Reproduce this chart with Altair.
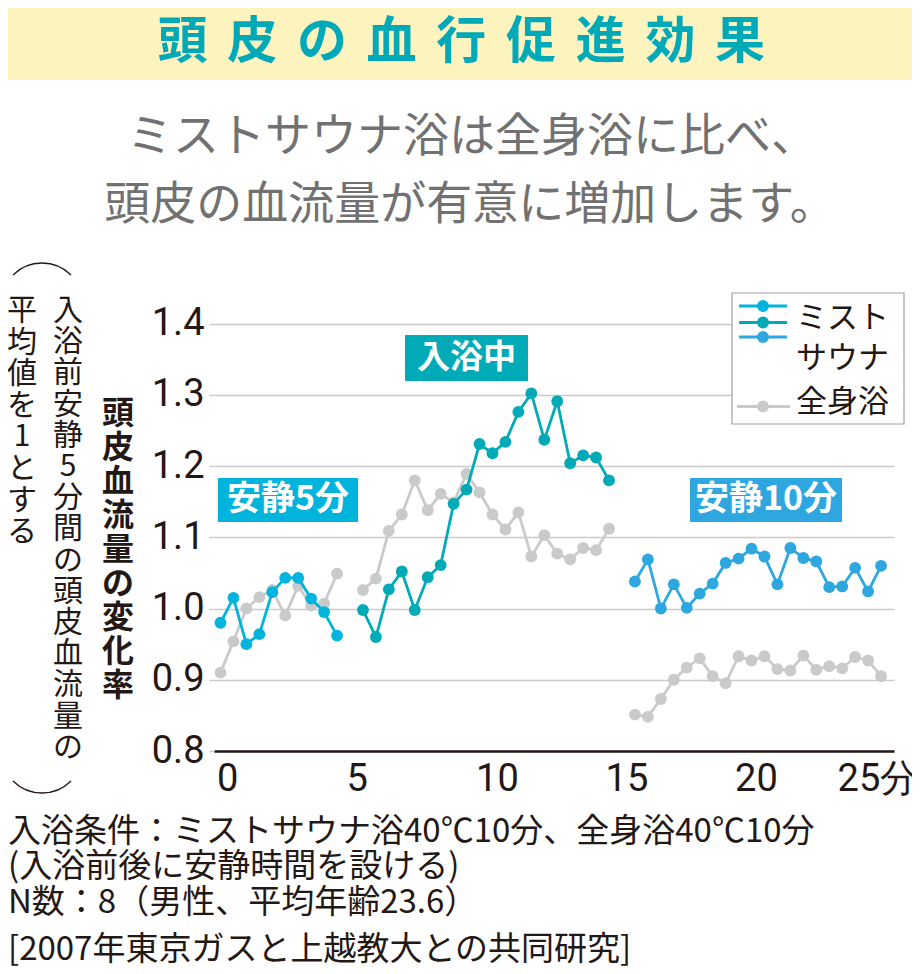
import altair as alt
import pandas as pd

# ---------------- data ----------------
t_rest1 = [0.0, 0.5, 1.0, 1.5, 2.0, 2.5, 3.0, 3.5, 4.0, 4.5]
t_bath = [5.5, 6.0, 6.5, 7.0, 7.5, 8.0, 8.5, 9.0, 9.5, 10.0,
          10.5, 11.0, 11.5, 12.0, 12.5, 13.0, 13.5, 14.0, 14.5, 15.0]
t_rest2 = [16.0, 16.5, 17.0, 17.5, 18.0, 18.5, 19.0, 19.5, 20.0, 20.5,
           21.0, 21.5, 22.0, 22.5, 23.0, 23.5, 24.0, 24.5, 25.0, 25.5]

mist_rest1 = [0.980, 1.015, 0.950, 0.964, 1.023, 1.043, 1.043, 1.014, 0.995, 0.962]
mist_bath = [0.998, 0.960, 1.027, 1.052, 0.998, 1.044, 1.061, 1.147, 1.167, 1.231,
             1.218, 1.234, 1.276, 1.302, 1.237, 1.291, 1.204, 1.215, 1.212, 1.180]
mist_rest2 = [1.038, 1.069, 1.000, 1.034, 1.001, 1.021, 1.035, 1.064, 1.070, 1.084,
              1.073, 1.034, 1.085, 1.071, 1.066, 1.030, 1.031, 1.057, 1.024, 1.060]

full_rest1 = [0.910, 0.954, 1.000, 1.016, 1.026, 0.990, 1.032, 1.004, 1.007, 1.049]
full_bath = [1.026, 1.042, 1.109, 1.132, 1.180, 1.138, 1.161, 1.149, 1.189, 1.163,
             1.132, 1.111, 1.135, 1.073, 1.103, 1.077, 1.069, 1.085, 1.082, 1.112]
full_rest2 = [0.851, 0.848, 0.873, 0.900, 0.917, 0.930, 0.905, 0.895, 0.933, 0.927,
              0.933, 0.915, 0.913, 0.934, 0.914, 0.919, 0.916, 0.932, 0.927, 0.905]

phases = ["安静5分", "入浴中", "安静10分"]
x_ticks = [0, 5, 10, 15, 20, 25]
y_ticks = [0.8, 0.9, 1.0, 1.1, 1.2, 1.3, 1.4]

title_text = "頭皮の血行促進効果"
subtitle_lines = ["ミストサウナ浴は全身浴に比べ、", "頭皮の血流量が有意に増加します。"]
y_title = "頭皮血流量の変化率"
note_col1 = "入浴前安静5分間の頭皮血流量の"
note_col2 = "平均値を1とする"
footer_lines = [
    "入浴条件：ミストサウナ浴40℃10分、全身浴40℃10分",
    "(入浴前後に安静時間を設ける)",
    "N数：8（男性、平均年齢23.6）",
    "[2007年東京ガスと上越教大との共同研究]",
]

# ---------------- styling ----------------
JP = "Noto Sans CJK JP"
NUM = "Roboto"
C_CYAN = "#00B4DE"
C_TEAL = "#00AAB6"
C_BLUE = "#2EA7E0"
C_GRAY = "#C9CACA"
C_BLACK = "#231815"
C_TITLE = "#00A9B7"
C_BANNER = "#FDF3BF"
C_SUB = "#717171"

rows = []
for ph, ts, ms, fs in [(phases[0], t_rest1, mist_rest1, full_rest1),
                       (phases[1], t_bath, mist_bath, full_bath),
                       (phases[2], t_rest2, mist_rest2, full_rest2)]:
    for t, m, f in zip(ts, ms, fs):
        rows.append({"t": t, "v": m, "series": "ミストサウナ", "phase": ph})
        rows.append({"t": t, "v": f, "series": "全身浴", "phase": ph})
df = pd.DataFrame(rows)

W, H = 680, 463
PL, PT = 206, 280
OX, OY = 8 + PL, 8 + PT  # page coordinates of plot origin

xs = alt.Scale(domain=[-0.25, 26], nice=False, zero=False)
ys = alt.Scale(domain=[0.8, 1.45], nice=False, zero=False)

x_axis = alt.Axis(
    values=x_ticks, title=None, grid=False, ticks=False,
    domainColor=C_BLACK, domainWidth=2.5,
    labelFont=NUM, labelFontSize=38, labelColor=C_BLACK,
    labelAlign="left", labelBaseline="top", labelPadding=9,
    labelOffset={"condition": {"test": "datum.value == 25", "value": -31}, "value": -4},
    labelExpr="datum.value == 25 ? '25分' : datum.label",
)
y_axis = alt.Axis(
    values=y_ticks, format=".1f", title=None, domain=False,
    grid=True, gridColor=C_GRAY, gridWidth=1.5,
    ticks=True, tickColor=C_GRAY, tickSize=5, tickWidth=1.5,
    labelFont=NUM, labelFontSize=38, labelColor=C_BLACK, labelPadding=5,
    labelBaseline="middle",
)

base = alt.Chart(df).encode(
    x=alt.X("t:Q", scale=xs, axis=x_axis),
    y=alt.Y("v:Q", scale=ys, axis=y_axis),
)

full = base.transform_filter(alt.datum.series == "全身浴")
mist = base.transform_filter(alt.datum.series == "ミストサウナ")
phase_color = alt.Color("phase:N", scale=alt.Scale(domain=phases, range=[C_CYAN, C_TEAL, C_BLUE]), legend=None)

full_line = full.mark_line(color=C_GRAY, strokeWidth=2.8).encode(detail="phase:N")
full_pts = full.mark_point(filled=True, size=140, opacity=1, color=C_GRAY)
mist_line = mist.mark_line(strokeWidth=2.8).encode(color=phase_color, detail="phase:N")
mist_pts = mist.mark_point(filled=True, size=140, opacity=1).encode(color=phase_color)

one = pd.DataFrame({"a": [0]})


def px(x):
    return x - OX


def py(y):
    return y - OY


def txt(s, x, y, size, color, weight="normal", align="center", baseline="middle",
        font=JP, line_height=None):
    kw = dict(text=s, fontSize=size, color=color, fontWeight=weight, align=align,
              baseline=baseline, font=font)
    if line_height:
        kw["lineBreak"] = "\n"
        kw["lineHeight"] = line_height
    return alt.Chart(one).mark_text(**kw).encode(x=alt.value(px(x)), y=alt.value(py(y)))


def rect(x0, y0, x1, y1, fill, stroke=None, sw=1):
    kw = dict(fill=fill)
    if stroke:
        kw["stroke"] = stroke
        kw["strokeWidth"] = sw
    return alt.Chart(one).mark_rect(**kw).encode(
        x=alt.value(px(x0)), x2=alt.value(px(x1)), y=alt.value(py(y0)), y2=alt.value(py(y1)))


layers = []
# banner
layers.append(rect(8, 8, 912, 80, C_BANNER))
for i, ch in enumerate(title_text):
    layers.append(txt(ch, 182.5 + i * 69.7, 43, 50, C_TITLE, weight="bold"))
# subtitle
layers.append(txt(subtitle_lines[0], 472, 137, 46, C_SUB))
layers.append(txt(subtitle_lines[1], 470, 205, 46, C_SUB))

# phase label boxes
layers.append(rect(218, 478, 358, 522, C_CYAN))
layers.append(txt("安静5分", 288, 500, 34, "white", weight="bold"))
layers.append(rect(405, 335, 528, 381, C_TEAL))
layers.append(txt("入浴中", 466.5, 358, 33, "white", weight="bold"))
layers.append(rect(690, 478, 842, 522, C_BLUE))
layers.append(txt("安静10分", 766, 500, 34, "white", weight="bold"))

# y title (vertical)
layers.append(txt("\n".join(y_title), 118, 399, 32, C_BLACK, weight="bold",
                  baseline="top", line_height=34))
# left notes (vertical)
layers.append(txt("\n".join(note_col1), 68, 296, 30, C_BLACK, baseline="top", line_height=31.2))
layers.append(txt("\n".join(note_col2), 22, 296, 30, C_BLACK, baseline="top", line_height=31.6))
# parentheses arcs
layers.append(alt.Chart(one).mark_arc(
    theta=5.498, theta2=7.069, radius=41, radius2=41, fill=None, stroke=C_BLACK, strokeWidth=1.3
).encode(x=alt.value(px(42)), y=alt.value(py(304))))
layers.append(alt.Chart(one).mark_arc(
    theta=2.356, theta2=3.927, radius=41, radius2=41, fill=None, stroke=C_BLACK, strokeWidth=1.3
).encode(x=alt.value(px(42)), y=alt.value(py(752))))

# data
layers += [full_line, full_pts, mist_line, mist_pts]

# legend
layers.append(rect(732, 293, 904, 424, "white", stroke="#A0A0A0", sw=1.2))
for yy, c in [(306, C_CYAN), (322.5, C_TEAL), (337, C_BLUE), (406.5, C_GRAY)]:
    layers.append(alt.Chart(one).mark_rule(color=c, strokeWidth=3).encode(
        x=alt.value(px(739 if c != C_GRAY else 737)), x2=alt.value(px(787 if c != C_GRAY else 790)),
        y=alt.value(py(yy))))
    layers.append(alt.Chart(one).mark_point(filled=True, size=140, opacity=1, color=c).encode(
        x=alt.value(px(763)), y=alt.value(py(yy))))
layers.append(txt("ミスト", 796, 319, 31, C_BLACK, align="left"))
layers.append(txt("サウナ", 796, 359, 31, C_BLACK, align="left"))
layers.append(txt("全身浴", 796, 403, 31, C_BLACK, align="left"))

# footer
for yy, line in zip([832, 867, 903, 950], footer_lines):
    layers.append(txt(line, 8, yy, 33, C_BLACK, align="left"))

chart = alt.layer(*layers).properties(
    width=W, height=H,
    padding={"left": PL, "top": PT, "right": 904 - PL - W, "bottom": 958 - PT - H},
    autosize=alt.AutoSizeParams(type="none"),
    background="white",
).configure_view(stroke=None)

chart.save("out.html", embed_options={"renderer": "svg", "actions": False})
